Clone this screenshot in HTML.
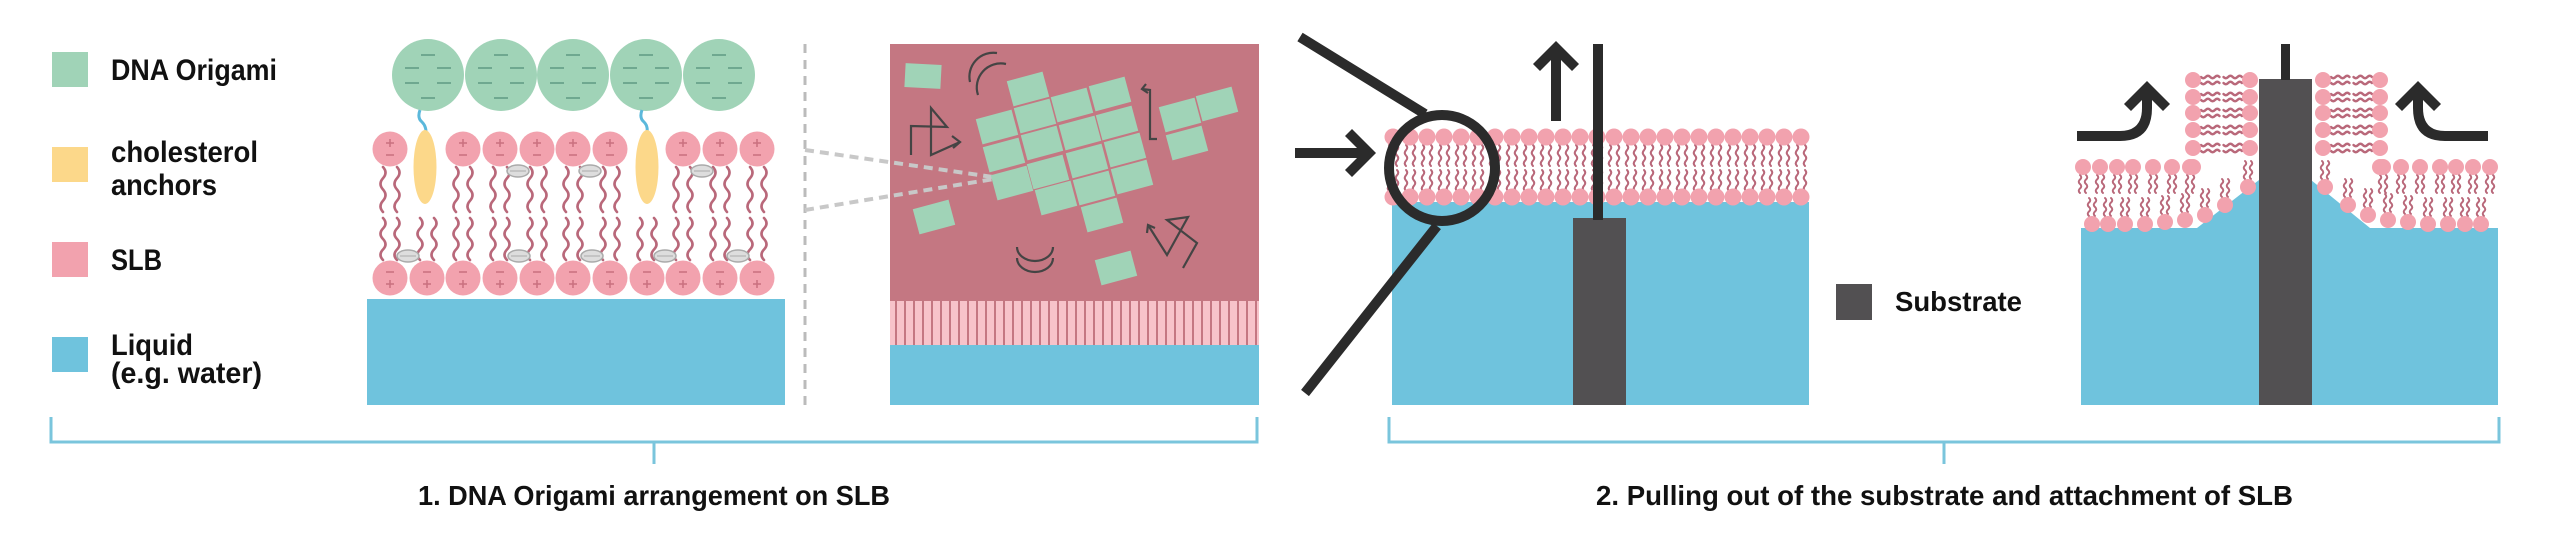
<!DOCTYPE html>
<html><head><meta charset="utf-8"><style>
html,body{margin:0;padding:0;background:#fff;}
svg{display:block;}
text{font-family:"Liberation Sans",sans-serif;font-weight:bold;fill:#111;}
</style></head><body>
<svg id="s" width="2560" height="534" viewBox="0 0 2560 534" xmlns="http://www.w3.org/2000/svg">
<!-- Legend -->
<rect x="52" y="52" width="36" height="35" fill="#a0d3b7"/>
<rect x="52" y="147" width="36" height="35" fill="#fcd88a"/>
<rect x="52" y="242" width="36" height="35" fill="#f2a2ae"/>
<rect x="52" y="337" width="36" height="35" fill="#6fc3dd"/>
<text x="111" y="80" font-size="30" textLength="166" lengthAdjust="spacingAndGlyphs">DNA Origami</text>
<text x="111" y="162" font-size="30" textLength="147" lengthAdjust="spacingAndGlyphs">cholesterol</text>
<text x="111" y="195" font-size="30" textLength="106" lengthAdjust="spacingAndGlyphs">anchors</text>
<text x="111" y="270" font-size="30" textLength="51" lengthAdjust="spacingAndGlyphs">SLB</text>
<text x="111" y="355" font-size="30" textLength="82" lengthAdjust="spacingAndGlyphs">Liquid</text>
<text x="111" y="383" font-size="30" textLength="151" lengthAdjust="spacingAndGlyphs">(e.g. water)</text>

<!-- Panel 1 -->
<rect x="367" y="299" width="418" height="106" fill="#6fc3dd"/>
<g id="p1"></g>
<line x1="805" y1="44" x2="805" y2="412" stroke="#bbb" stroke-width="3" stroke-dasharray="9,7"/>
<!-- zoom box -->
<rect x="890" y="44" width="369" height="257" fill="#c47782"/>
<rect x="890" y="301" width="369" height="44" fill="#f7c3ca"/>
<g id="stripes"></g>
<rect x="890" y="345" width="369" height="60" fill="#6fc3dd"/>
<line x1="805" y1="150" x2="1000" y2="178" stroke="#c8c8c8" stroke-width="4" stroke-dasharray="9,6"/>
<line x1="805" y1="210" x2="1000" y2="178" stroke="#c8c8c8" stroke-width="4" stroke-dasharray="9,6"/>
<g id="tiles"></g>
<g fill="none" stroke="#444" stroke-width="2.2">
<path d="M970,82 A24 24 0 0 1 997,53"/>
<path d="M978,95 A24 24 0 0 1 1006,64"/>
<path d="M911,155 L911,126 L947,127 L931,108 L931,155 L960,142"/>
<path d="M952,136 L960,142 L953,148"/>
<path d="M1146,84 L1142,89 L1148,93"/>
<path d="M1142,89 L1150,90 L1150,139 L1157,139"/>
<path d="M1017,247 A18 14 0 0 0 1053,247"/>
<path d="M1017,258 A18 14 0 0 0 1053,258"/>
<path d="M1183,268 L1197,243 L1167,220 L1188,217 L1167,255 L1148,225"/>
<path d="M1147,233 L1148,225 L1155,228"/>
</g>

<!-- Panel 2 left -->
<rect x="1392" y="202" width="417" height="203" fill="#6fc3dd"/>
<g id="p2"></g>
<rect x="1573" y="218" width="53" height="187" fill="#525052"/>
<rect x="1593" y="44" width="10" height="176" fill="#2b2b2b"/>
<path d="M1551,121 L1551,60 L1540,71 L1533,64 L1556,41 L1579,64 L1572,71 L1561,60 L1561,121 Z" fill="#2b2b2b"/>
<path d="M1295,148 L1357,148 L1345,136 L1352,129 L1376,153 L1352,177 L1345,170 L1357,158 L1295,158 Z" fill="#2b2b2b"/>
<line x1="1300" y1="37" x2="1425" y2="114" stroke="#2b2b2b" stroke-width="10"/>
<line x1="1437" y1="226" x2="1305" y2="393" stroke="#2b2b2b" stroke-width="10"/>
<circle cx="1442" cy="168" r="53" fill="none" stroke="#2b2b2b" stroke-width="10"/>

<!-- Substrate legend -->
<rect x="1836" y="284" width="36" height="36" fill="#525052"/>
<text x="1895" y="311" font-size="28" textLength="127" lengthAdjust="spacingAndGlyphs">Substrate</text>

<!-- Panel 2 right -->
<path d="M2081,228 L2197,228 L2259,180 L2311,180 L2370,228 L2498,228 L2498,405 L2081,405 Z" fill="#6fc3dd"/>
<g id="p3"></g>
<rect x="2259" y="79" width="53" height="326" fill="#525052"/>
<rect x="2281" y="44" width="9" height="36" fill="#2b2b2b"/>
<path d="M2077,131 L2120,131 Q2142,131 2142,108 L2142,100 L2131,111 L2124,104 L2147,81 L2170,104 L2163,111 L2152,100 L2152,108 Q2152,141 2120,141 L2077,141 Z" fill="#2b2b2b"/>
<path d="M2488,131 L2445,131 Q2423,131 2423,108 L2423,100 L2434,111 L2441,104 L2418,81 L2395,104 L2402,111 L2413,100 L2413,108 Q2413,141 2445,141 L2488,141 Z" fill="#2b2b2b"/>

<!-- Brackets -->
<g fill="none" stroke="#7ac5dc" stroke-width="3">
<path d="M51,417 L51,442 L1257,442 L1257,417"/>
<line x1="654" y1="442" x2="654" y2="464"/>
<path d="M1389,417 L1389,442 L2499,442 L2499,417"/>
<line x1="1944" y1="442" x2="1944" y2="464"/>
</g>
<text x="418" y="505" font-size="28" textLength="472" lengthAdjust="spacingAndGlyphs">1. DNA Origami arrangement on SLB</text>
<text x="1596" y="505" font-size="28" textLength="697" lengthAdjust="spacingAndGlyphs">2. Pulling out of the substrate and attachment of SLB</text>
</svg>
<script>
var NS="http://www.w3.org/2000/svg";
function el(p,t,a){var e=document.createElementNS(NS,t);for(var k in a)e.setAttribute(k,a[k]);p.appendChild(e);return e;}
var PINK="#f2a2ae",TAIL="#b9687a";
// Panel 1
var p1=document.getElementById("p1");
function vtail(g,x,y1,y2,amp,w){var h=(y2-y1)/4;var d="M"+x+","+y1;for(var i=0;i<4;i++){d+=" q"+(i%2?-amp:amp)+","+(h/2)+" 0,"+h;}el(g,"path",{d:d,fill:"none",stroke:TAIL,"stroke-width":w||2.6,"stroke-linecap":"round"});}
// green circles
[428,501,573,646,719].forEach(function(cx){
 el(p1,"circle",{cx:cx,cy:75,r:36,fill:"#a0d3b7"});
 [[0,55],[-16,68],[16,68],[-16,83],[16,83],[0,98]].forEach(function(m){el(p1,"line",{x1:cx+m[0]-7,x2:cx+m[0]+7,y1:m[1],y2:m[1],stroke:"#6fa890","stroke-width":2});});
});
// tethers
[[420,426],[642,647]].forEach(function(t){el(p1,"path",{d:"M"+t[0]+",110 q-3,8 2,12 q4,4 "+(t[1]-t[0]-2)+",10",fill:"none",stroke:"#5bb8db","stroke-width":3});});
// tails upper
var up=[390,463,500,537,573,610,683,720,757];
up.forEach(function(x){vtail(p1,x-7,167,212,5);vtail(p1,x+7,167,212,5);});
var lo=[390,427,463,500,537,573,610,647,683,720,757];
lo.forEach(function(x){vtail(p1,x-7,218,260,5);vtail(p1,x+7,218,260,5);});
// anchors
[425,647].forEach(function(x){el(p1,"ellipse",{cx:x,cy:167,rx:11.5,ry:37,fill:"#fcd88a"});});
function head(x,y,top){el(p1,"circle",{cx:x,cy:y,r:17.5,fill:PINK});
 var s=top?[y-6,y+6]:[y+6,y-6];
 el(p1,"line",{x1:x-4,x2:x+4,y1:s[0],y2:s[0],stroke:"#c9707f","stroke-width":1.5});
 el(p1,"line",{x1:x,x2:x,y1:s[0]-4,y2:s[0]+4,stroke:"#c9707f","stroke-width":1.5});
 el(p1,"line",{x1:x-4,x2:x+4,y1:s[1],y2:s[1],stroke:"#c9707f","stroke-width":1.5});}
up.forEach(function(x){head(x,149,true);});
lo.forEach(function(x){head(x,278,false);});
function gc(x,y){el(p1,"ellipse",{cx:x,cy:y,rx:11,ry:6,fill:"#ddd",stroke:"#aaa","stroke-width":1.5});el(p1,"line",{x1:x-8,x2:x+8,y1:y,y2:y,stroke:"#aaa","stroke-width":1});}
[518,590,702].forEach(function(x){gc(x,171);});
[408,519,592,665,738].forEach(function(x){gc(x,256);});
// stripes
var st=document.getElementById("stripes");
for(var x=895;x<1259;x+=9)el(st,"rect",{x:x,y:301,width:2,height:44,fill:"#c47782"});
// tiles
var tl=document.getElementById("tiles");
var T=[[1028,89],[1110,94],[1072,105],[1035,116],[997,127],[1117,123],[1080,133],[1042,143],[1004,155],[1125,150],[1087,161],[1048,172],[1012,183],[1132,177],[1094,188],[1056,198],[1102,215],[1180,115],[1217,104],[1187,143],[934,217],[1116,268]];
T.forEach(function(t){el(tl,"rect",{x:t[0]-18.5,y:t[1]-13,width:37,height:26,fill:"#a0d3b7",transform:"rotate(-15 "+t[0]+" "+t[1]+")"});});
el(tl,"rect",{x:905,y:64,width:36,height:24,fill:"#a0d3b7",transform:"rotate(3 923 76)"});
// Panel 2 left bilayer
var p2=document.getElementById("p2");
for(var x=1393;x<=1802;x+=17){vtail(p2,x-4,145,166,2.5,2);vtail(p2,x+4,145,166,2.5,2);vtail(p2,x-4,170,191,2.5,2);vtail(p2,x+4,170,191,2.5,2);}
for(var x=1393;x<=1802;x+=17){el(p2,"circle",{cx:x,cy:137,r:8.5,fill:PINK});el(p2,"circle",{cx:x,cy:197,r:8.5,fill:PINK});}
// Panel 2 right
var p3=document.getElementById("p3");
function htail(g,x1,x2,y,amp){var w=(x2-x1)/4;var d="M"+x1+","+y;for(var i=0;i<4;i++){d+=" q"+(w/2)+","+(i%2?-amp:amp)+" "+w+",0";}el(g,"path",{d:d,fill:"none",stroke:TAIL,"stroke-width":2.4,"stroke-linecap":"round"});}
var topL=[2083,2100,2117,2133,2153,2172,2190];
var botL=[[2092,224],[2108,224],[2125,224],[2145,224],[2165,222],[2185,220],[2205,215],[2225,205],[2248,187]];
function side(sign,cx){
 topL.forEach(function(x,i){var X=cx+sign*(x-2083);vtail(p3,X-3,175,193,2.5,2);vtail(p3,X+3,175,193,2.5,2);});
 botL.forEach(function(b){var X=cx+sign*(b[0]-2083);vtail(p3,X-3,b[1]-26,b[1]-8,2.5,2);vtail(p3,X+3,b[1]-26,b[1]-8,2.5,2);});
 var c1=cx+sign*(2193-2083),c2=cx+sign*(2250-2083);
 [80,97,113,130,148].forEach(function(y){var a=Math.min(c1,c2)+8,b=Math.max(c1,c2)-8,m=(a+b)/2;htail(p3,a,m-2,y-3,2.5);htail(p3,m+2,b,y-3,2.5);htail(p3,a,m-2,y+3,2.5);htail(p3,m+2,b,y+3,2.5);});
 [80,97,113,130,148].forEach(function(y){el(p3,"circle",{cx:c1,cy:y,r:8,fill:PINK});el(p3,"circle",{cx:c2,cy:y,r:8,fill:PINK});});
 el(p3,"circle",{cx:c1,cy:167,r:8,fill:PINK});
 topL.forEach(function(x){el(p3,"circle",{cx:cx+sign*(x-2083),cy:167,r:8,fill:PINK});});
 botL.forEach(function(b){el(p3,"circle",{cx:cx+sign*(b[0]-2083),cy:b[1],r:8,fill:PINK});});
}
side(1,2083);side(-1,2490);
</script>
</body></html>
